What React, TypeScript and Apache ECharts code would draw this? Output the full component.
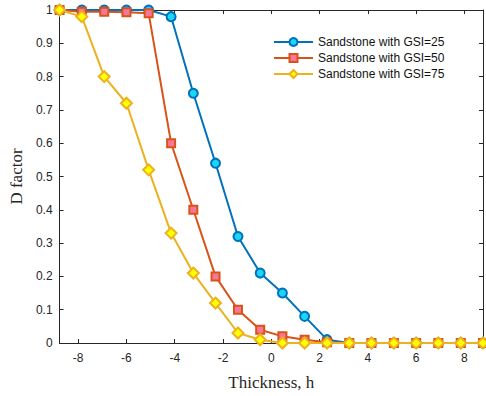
import React, { useEffect, useRef } from "react";
import * as echarts from "echarts";

const thickness = [-8.77, -7.85, -6.92, -6.0, -5.08, -4.15, -3.23, -2.31, -1.38, -0.46, 0.46, 1.38, 2.31, 3.23, 4.15, 5.08, 6.0, 6.92, 7.85, 8.77];
const gsi25 = [1, 1, 1, 1, 1, 0.98, 0.75, 0.54, 0.32, 0.21, 0.15, 0.08, 0.01, 0, 0, 0, 0, 0, 0, 0];
const gsi50 = [1, 0.995, 0.995, 0.993, 0.99, 0.6, 0.4, 0.2, 0.1, 0.04, 0.02, 0.01, 0.002, 0, 0, 0, 0, 0, 0, 0];
const gsi75 = [1, 0.98, 0.8, 0.72, 0.52, 0.33, 0.21, 0.12, 0.03, 0.01, 0, 0, 0, 0, 0, 0, 0, 0, 0, 0];
const xTicks = [-8, -6, -4, -2, 0, 2, 4, 6, 8];
const seriesNames = ["Sandstone with GSI=25", "Sandstone with GSI=50", "Sandstone with GSI=75"];

const axisColor = "#262626";
const sans = "Liberation Sans";
const serif = "Liberation Serif";

export default function App() {
  const ref = useRef<HTMLDivElement>(null);
  useEffect(() => {
    if (!ref.current) return;
    const chart = echarts.init(ref.current, null, { renderer: "svg" });
    const pts = (ys: number[]) => thickness.map((x, i) => [x, ys[i]]);
    const xBase = {
      type: "value",
      min: -8.77,
      max: 8.77,
      splitLine: { show: false },
      axisLine: { show: true, onZero: false, lineStyle: { color: axisColor, width: 1 } },
      axisTick: { show: true, inside: true, length: 4, customValues: xTicks, lineStyle: { color: axisColor } },
    };
    const yBase = {
      type: "value",
      min: 0,
      max: 1,
      interval: 0.1,
      splitLine: { show: false },
      axisLine: { show: true, onZero: false, lineStyle: { color: axisColor, width: 1 } },
      axisTick: { show: true, inside: true, length: 4, lineStyle: { color: axisColor } },
    };
    chart.setOption({
      animation: false,
      backgroundColor: "#ffffff",
      grid: { left: 57, right: 3, top: 10, bottom: 49, containLabel: false },
      legend: {
        show: true,
        left: 273,
        top: 36,
        padding: 0,
        orient: "vertical",
        itemWidth: 39,
        itemHeight: 10,
        itemGap: 4,
        textStyle: { fontFamily: sans, fontSize: 12, color: "#111" },
        data: seriesNames,
      },
      xAxis: [
        {
          ...xBase,
          position: "bottom",
          name: "Thickness, h",
          nameLocation: "middle",
          nameGap: 31,
          nameTextStyle: { fontFamily: serif, fontSize: 17, color: axisColor },
          axisLabel: { show: true, customValues: xTicks, margin: 9, fontFamily: sans, fontSize: 12, color: axisColor },
        },
        {
          ...xBase,
          position: "top",
          axisLabel: { show: false },
        },
      ],
      yAxis: [
        {
          ...yBase,
          position: "left",
          name: "D factor",
          nameLocation: "middle",
          nameGap: 30,
          nameTextStyle: { fontFamily: serif, fontSize: 17, color: axisColor },
          axisLabel: { show: true, margin: 7, fontFamily: sans, fontSize: 12, color: axisColor },
        },
        {
          ...yBase,
          position: "right",
          axisLabel: { show: false },
        },
      ],
      series: [
        {
          name: seriesNames[0],
          type: "line",
          data: pts(gsi25),
          symbol: "circle",
          symbolSize: 9,
          showAllSymbol: true,
          lineStyle: { color: "#0072BD", width: 2 },
          itemStyle: { color: "#1ad6f7", borderColor: "#0072BD", borderWidth: 2 },
        },
        {
          name: seriesNames[1],
          type: "line",
          data: pts(gsi50),
          symbol: "rect",
          symbolSize: 8,
          showAllSymbol: true,
          lineStyle: { color: "#D95319", width: 2 },
          itemStyle: { color: "#f7779a", borderColor: "#D95319", borderWidth: 2 },
        },
        {
          name: seriesNames[2],
          type: "line",
          data: pts(gsi75),
          symbol: "diamond",
          symbolSize: 11,
          showAllSymbol: true,
          lineStyle: { color: "#EDB120", width: 2 },
          itemStyle: { color: "#ffff00", borderColor: "#EDB120", borderWidth: 2 },
        },
      ],
    });
    return () => chart.dispose();
  }, []);
  return <div ref={ref} style={{ width: 486, height: 396, position: "fixed", left: 0, top: 0 }} />;
}
